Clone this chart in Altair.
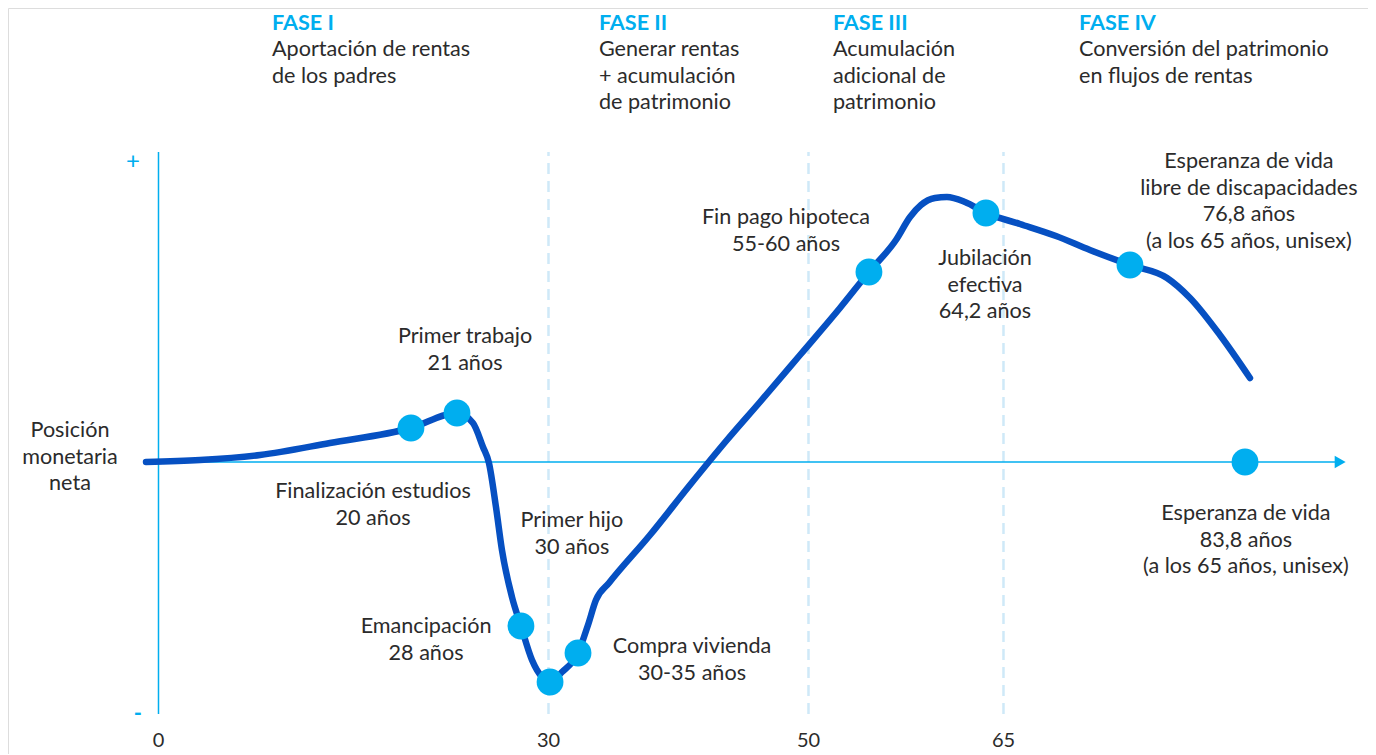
import altair as alt
import pandas as pd

# ---------------- data (x = age in years, y = net monetary position, arbitrary units) -------------
curve_x = [-0.96, 3.19, 7.81, 13.19, 19.42, 22.96, 24.19, 24.96, 25.42, 25.96, 26.42, 27.19,
           27.88, 28.73, 29.5, 30.12, 31.04, 32.27, 33.04, 33.65, 34.65, 37.81, 40.88, 43.73,
           46.27, 49.35, 52.42, 54.65, 56.73, 57.81, 58.65, 59.73, 60.65, 62.04, 63.65, 66.27,
           69.04, 71.65, 74.73, 77.58, 79.35, 81.65, 83.96]
curve_y = [0, 2, 7, 19, 34, 49, 39, 15, -1, -45, -88, -135,
           -164, -198, -215, -220, -210, -191, -163, -138, -121, -73, -23, 22,
           60, 107, 154, 190, 222, 245, 257, 264, 265, 260, 249, 238,
           226, 212, 197, 184, 164, 127, 84]

event_x = [19.42, 22.96, 27.88, 30.12, 32.27, 54.65, 63.65, 74.73, 83.58]
event_y = [34, 49, -164, -220, -191, 190, 249, 197, 0]

tick_values = [0, 30, 50, 65]
tick_labels = ["0", "30", "50", "65"]
phase_lines = [30, 50, 65]

phase_titles = ["FASE I", "FASE II", "FASE III", "FASE IV"]
phase_descs = [
    ["Aportación de rentas", "de los padres"],
    ["Generar rentas", "+ acumulación", "de patrimonio"],
    ["Acumulación", "adicional de", "patrimonio"],
    ["Conversión del patrimonio", "en flujos de rentas"],
]
phase_x = [8.73, 33.88, 51.88, 70.81]

ann_texts = [
    ["Posición", "monetaria", "neta"],
    ["Primer trabajo", "21 años"],
    ["Finalización estudios", "20 años"],
    ["Primer hijo", "30 años"],
    ["Emancipación", "28 años"],
    ["Compra vivienda", "30-35 años"],
    ["Fin pago hipoteca", "55-60 años"],
    ["Jubilación", "efectiva", "64,2 años"],
    ["Esperanza de vida", "libre de discapacidades", "76,8 años", "(a los 65 años, unisex)"],
    ["Esperanza de vida", "83,8 años", "(a los 65 años, unisex)"],
]
ann_x = [-6.81, 23.58, 16.5, 31.8, 20.58, 41.04, 48.27, 63.58, 83.88, 83.65]
ann_y = [31, 125, -30, -59, -165, -185, 244, 203, 300, -52]

LINE_H = 26.5
FONT = "Lato"
FS = 21.6
TXT = "#2b2b2b"
CYAN = "#00aeef"
DARK = "#0650c2"

XMIN, XMAX = -11.577, 93.04
YMIN, YMAX = -292, 454
W, H = 1360, 746

xs = alt.Scale(domain=[XMIN, XMAX], nice=False, zero=False)
ys = alt.Scale(domain=[YMIN, YMAX], nice=False, zero=False)

def X(f):
    return alt.X(f, type="quantitative", scale=xs, axis=None)

def Y(f):
    return alt.Y(f, type="quantitative", scale=ys, axis=None)

# ---------------- tables ----------------
curve_df = pd.DataFrame({"x": curve_x, "y": curve_y})
event_df = pd.DataFrame({"x": event_x, "y": event_y})
ticks_df = pd.DataFrame({"x": tick_values, "label": tick_labels, "y": [-279] * len(tick_values)})
dash_df = pd.DataFrame({"x": phase_lines, "y": [-252] * 3, "y2": [310] * 3})

rows = []
for t, lines, x in zip(phase_titles, phase_descs, phase_x):
    for i, ln in enumerate(lines):
        rows.append({"x": x, "y": 412 - i * LINE_H, "t": ln})
phase_desc_df = pd.DataFrame(rows)
phase_title_df = pd.DataFrame({"x": phase_x, "y": [438.5] * 4, "t": phase_titles})

rows = []
for lines, x, y in zip(ann_texts, ann_x, ann_y):
    for i, ln in enumerate(lines):
        rows.append({"x": x, "y": y - i * LINE_H, "t": ln})
ann_df = pd.DataFrame(rows)

# ---------------- layers ----------------
dashes = alt.Chart(dash_df).mark_rule(color="#cfe9f8", strokeWidth=2.5, strokeDash=[11, 7]).encode(
    x=X("x"), y=Y("y"), y2="y2")

yaxis = alt.Chart(pd.DataFrame({"x": [0], "y": [-252], "y2": [310]})).mark_rule(
    color=CYAN, strokeWidth=1.5).encode(x=X("x"), y=Y("y"), y2="y2")

xaxis = alt.Chart(pd.DataFrame({"x": [-0.96], "x2": [90.5], "y": [0]})).mark_rule(
    color=CYAN, strokeWidth=1.5).encode(x=X("x"), x2="x2", y=Y("y"))

arrow = alt.Chart(pd.DataFrame({"x": [90.9], "y": [0]})).mark_point(
    shape="triangle-right", filled=True, color=CYAN, size=160, opacity=1).encode(x=X("x"), y=Y("y"))

curve = alt.Chart(curve_df).mark_line(color=DARK, strokeWidth=6.5, strokeCap="round",
                                      interpolate="monotone").encode(x=X("x"), y=Y("y"))

dots = alt.Chart(event_df).mark_circle(color=CYAN, size=720, opacity=1).encode(x=X("x"), y=Y("y"))

ticks = alt.Chart(ticks_df).mark_text(font=FONT, fontSize=20, color=TXT, baseline="middle").encode(
    x=X("x"), y=Y("y"), text="label")

plus = alt.Chart(pd.DataFrame({"x": [-1.96], "y": [300], "t": ["+"]})).mark_text(
    font=FONT, fontSize=24, color=CYAN, baseline="middle").encode(x=X("x"), y=Y("y"), text="t")
minus = alt.Chart(pd.DataFrame({"x": [-1.58], "y": [-252], "t": ["-"]})).mark_text(
    font=FONT, fontSize=22, fontWeight="bold", color=CYAN, baseline="middle").encode(x=X("x"), y=Y("y"), text="t")

ptitles = alt.Chart(phase_title_df).mark_text(font=FONT, fontSize=FS, fontWeight="bold", color=CYAN,
                                             align="left", baseline="middle").encode(
    x=X("x"), y=Y("y"), text="t")
pdescs = alt.Chart(phase_desc_df).mark_text(font=FONT, fontSize=FS, color=TXT,
                                           align="left", baseline="middle").encode(
    x=X("x"), y=Y("y"), text="t")

anns = alt.Chart(ann_df).mark_text(font=FONT, fontSize=FS, color=TXT, align="center",
                                   baseline="middle").encode(x=X("x"), y=Y("y"), text="t")

chart = alt.layer(dashes, yaxis, xaxis, arrow, curve, dots, ticks, plus, minus,
                  ptitles, pdescs, anns).properties(
    width=W, height=H, autosize=alt.AutoSizeParams(type="none"), padding=0
).configure_view(stroke="transparent", strokeWidth=0).configure(background="white")

chart.save("out.html", embed_options={"renderer": "svg", "actions": False})
